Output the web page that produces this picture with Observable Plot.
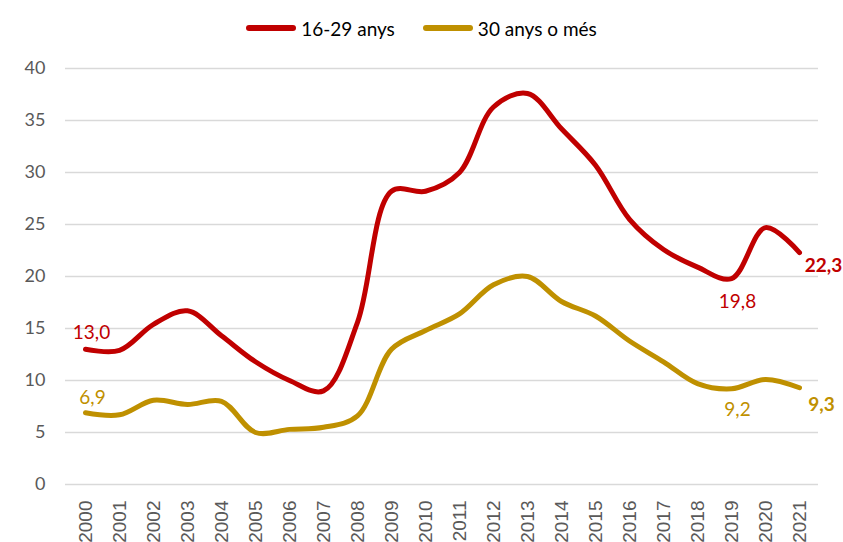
<!DOCTYPE html>
<html>
<head>
<meta charset="utf-8">
<script src="https://cdn.jsdelivr.net/npm/d3@7"></script>
<script src="https://cdn.jsdelivr.net/npm/@observablehq/plot@0.6"></script>
<style>
  html, body { margin: 0; padding: 0; background: #fff; }
  #wrap { width: 843px; height: 542px; overflow: hidden; position: relative; }
  #legend { height: 56px; display: flex; align-items: center; justify-content: center; font-family: Lato, "Liberation Sans", sans-serif; font-size: 19px; color: #000; }
  .item { display: flex; align-items: center; margin: 0 14px; }
  .sw { width: 50px; height: 6px; border-radius: 3px; margin-right: 5px; }
</style>
</head>
<body>
<div id="wrap">
  <div id="legend"></div>
  <div id="chart"></div>
</div>
<script>
const years = ["2000","2001","2002","2003","2004","2005","2006","2007","2008","2009","2010","2011","2012","2013","2014","2015","2016","2017","2018","2019","2020","2021"];
const young = [13.0,12.9,15.4,16.7,14.3,11.8,10.0,9.0,15.6,28.2,28.2,30.0,36.3,37.6,34.2,30.7,25.5,22.6,20.9,19.8,24.7,22.3];
const older = [6.9,6.7,8.1,7.7,8.0,5.0,5.3,5.5,6.6,13.0,14.8,16.4,19.2,20.0,17.6,16.2,13.8,11.8,9.7,9.2,10.1,9.3];
const seriesNames = ["16-29 anys", "30 anys o més"];
const seriesColors = ["#C00000", "#BF9000"];
const yTicks = [0,5,10,15,20,25,30,35,40];

const rows = [];
years.forEach((y, i) => {
  rows.push({year: y, value: young[i], s: seriesNames[0]});
  rows.push({year: y, value: older[i], s: seriesNames[1]});
});
const fmt = v => v.toFixed(1).replace(".", ",");

const labelSpecs = [
  {s: seriesNames[0], year: "2000", dx: 6, dy: -16, bold: false},
  {s: seriesNames[1], year: "2000", dx: 7, dy: -15, bold: false},
  {s: seriesNames[0], year: "2019", dx: 6, dy: 23, bold: false},
  {s: seriesNames[1], year: "2019", dx: 6, dy: 21, bold: false},
  {s: seriesNames[0], year: "2021", dx: 24, dy: 13, bold: true},
  {s: seriesNames[1], year: "2021", dx: 22, dy: 17, bold: true}
];
const labelMarks = labelSpecs.map(sp => {
  const d = rows.filter(r => r.s === sp.s && r.year === sp.year);
  return Plot.text(d, {
    x: "year", y: "value", text: r => fmt(r.value),
    fill: seriesColors[seriesNames.indexOf(sp.s)],
    dx: sp.dx, dy: sp.dy, fontSize: 19,
    fontWeight: sp.bold ? "bold" : "normal",
    fontFamily: "Lato, 'Liberation Sans', sans-serif"
  });
});

const legend = document.getElementById("legend");
seriesNames.forEach((n, i) => {
  const it = document.createElement("div");
  it.className = "item";
  it.innerHTML = `<div class="sw" style="background:${seriesColors[i]}"></div><span>${n}</span>`;
  legend.appendChild(it);
});

const chart = Plot.plot({
  width: 843,
  height: 486,
  marginTop: 12,
  marginBottom: 58,
  marginLeft: 65,
  marginRight: 25,
  style: {fontFamily: "Lato, 'Liberation Sans', sans-serif", background: "#fff"},
  x: {type: "point", domain: years, padding: 0.5, label: null},
  y: {domain: [0, 40], label: null},
  color: {domain: seriesNames, range: seriesColors},
  marks: [
    Plot.ruleY(yTicks, {stroke: "#D9D9D9", strokeWidth: 1.3}),
    Plot.axisY({ticks: yTicks, tickSize: 0, tickPadding: 20, fontSize: 18, fill: "#595959", label: null}),
    Plot.axisX({tickSize: 0, tickPadding: 16, tickRotate: -90, fontSize: 19, fill: "#595959", fontFamily: "'Liberation Sans', Arial, sans-serif", label: null}),
    Plot.line(rows, {x: "year", y: "value", z: "s", stroke: "s", strokeWidth: 5, curve: "catmull-rom", strokeLinecap: "round", strokeLinejoin: "round"}),
    ...labelMarks
  ]
});
document.getElementById("chart").appendChild(chart);
</script>
</body>
</html>
